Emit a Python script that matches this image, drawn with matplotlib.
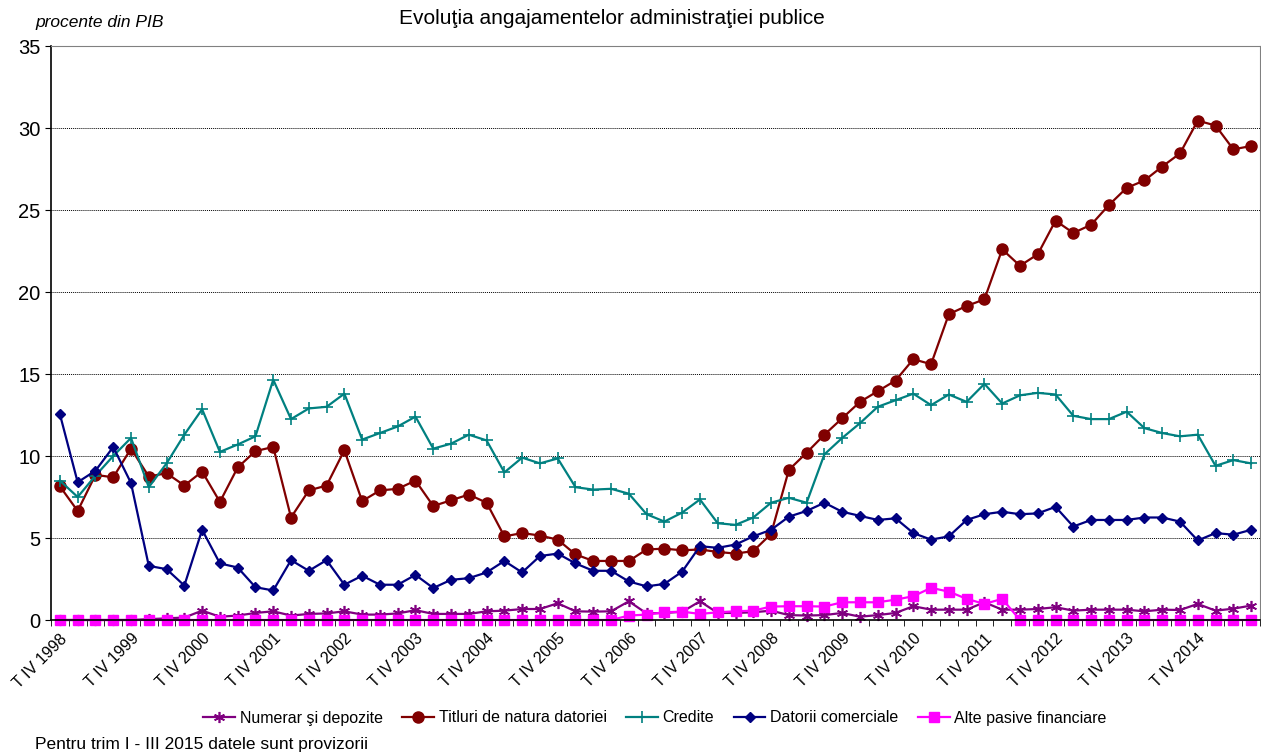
import numpy as np
import matplotlib
matplotlib.use("Agg")
import matplotlib.pyplot as plt

plt.rcParams['font.family'] = ['Liberation Sans', 'DejaVu Sans']

# quarters T IV 1998 ... T III 2015
years = list(range(1998, 2015))
tick_labels = ['T IV %d' % y for y in years]

numerar = [0.0, 0.0, 0.0, 0.0, 0.0, 0.05, 0.1, 0.15, 0.57, 0.2, 0.27, 0.43, 0.53, 0.27, 0.37, 0.4,
           0.53, 0.33, 0.33, 0.4, 0.6, 0.37, 0.37, 0.37, 0.53, 0.57, 0.67, 0.67, 1.02, 0.53, 0.51, 0.53,
           1.14, 0.4, 0.43, 0.5, 1.14, 0.43, 0.43, 0.47, 0.57, 0.3, 0.27, 0.3, 0.43, 0.2, 0.3, 0.43,
           0.84, 0.63, 0.63, 0.63, 1.08, 0.63, 0.63, 0.67, 0.78, 0.57, 0.63, 0.63, 0.63, 0.53, 0.63, 0.61,
           0.98, 0.57, 0.69, 0.88]
titluri = [8.15, 6.65, 8.85, 8.7, 10.45, 8.75, 8.95, 8.2, 9.05, 7.2, 9.3, 10.3, 10.55, 6.25, 7.9, 8.2,
           10.35, 7.25, 7.9, 8.0, 8.5, 6.95, 7.3, 7.65, 7.15, 5.1, 5.3, 5.15, 4.9, 4.0, 3.6, 3.6,
           3.6, 4.3, 4.35, 4.25, 4.3, 4.15, 4.05, 4.2, 5.25, 9.15, 10.2, 11.3, 12.3, 13.3, 13.95, 14.6,
           15.9, 15.6, 18.65, 19.15, 19.55, 22.6, 21.6, 22.3, 24.35, 23.6, 24.1, 25.3, 26.35, 26.8, 27.65, 28.45,
           30.45, 30.15, 28.7, 28.9]
credite = [8.5, 7.5, 8.8, 10.0, 11.1, 8.1, 9.55, 11.3, 12.85, 10.25, 10.7, 11.2, 14.65, 12.25, 12.9, 13.0,
           13.8, 11.0, 11.4, 11.8, 12.4, 10.45, 10.75, 11.3, 10.95, 9.0, 9.9, 9.55, 9.85, 8.1, 7.95, 8.0,
           7.7, 6.45, 6.0, 6.55, 7.35, 5.9, 5.8, 6.25, 7.15, 7.45, 7.15, 10.1, 11.1, 12.0, 13.0, 13.4,
           13.8, 13.1, 13.75, 13.3, 14.4, 13.2, 13.7, 13.85, 13.75, 12.45, 12.25, 12.25, 12.7, 11.7, 11.4, 11.2,
           11.3, 9.4, 9.75, 9.55]
datorii = [12.55, 8.4, 9.1, 10.55, 8.35, 3.3, 3.1, 2.1, 5.5, 3.45, 3.2, 2.0, 1.8, 3.65, 3.0, 3.65,
           2.15, 2.7, 2.15, 2.15, 2.75, 1.95, 2.45, 2.55, 2.9, 3.6, 2.9, 3.9, 4.05, 3.45, 3.0, 3.0,
           2.35, 2.05, 2.2, 2.95, 4.5, 4.4, 4.6, 5.1, 5.5, 6.3, 6.65, 7.15, 6.6, 6.35, 6.1, 6.2,
           5.3, 4.9, 5.1, 6.1, 6.45, 6.6, 6.45, 6.5, 6.9, 5.7, 6.1, 6.1, 6.1, 6.25, 6.25, 6.0,
           4.85, 5.3, 5.2, 5.5]
alte = [0.0] * 32 + [0.27, 0.33, 0.47, 0.51, 0.37, 0.47, 0.53, 0.57, 0.82, 0.84, 0.84, 0.82, 1.08, 1.08, 1.08, 1.24,
                     1.45, 1.96, 1.73, 1.29, 0.98, 1.29] + [0.0] * 14

x = np.arange(len(titluri))

fig = plt.figure(figsize=(12.61, 7.52), dpi=100)
ax = fig.add_axes([51 / 1261, 132 / 752, 1209 / 1261, 574 / 752])

ax.plot(x, numerar, color='#800080', marker=(6, 2, 0), markersize=8, markeredgewidth=1.2, lw=1.6,
        label='Numerar şi depozite', clip_on=False)
ax.plot(x, titluri, color='#800000', marker='o', markersize=8, lw=1.6, label='Titluri de natura datoriei',
        clip_on=False)
ax.plot(x, credite, color='#008080', marker='+', markersize=8, markeredgewidth=1.2, lw=1.6, label='Credite',
        clip_on=False)
ax.plot(x, datorii, color='#000080', marker='D', markersize=5.5, lw=1.6, label='Datorii comerciale',
        clip_on=False)
ax.plot(x, alte, color='#FF00FF', marker='s', markersize=7, lw=1.6, label='Alte pasive financiare',
        clip_on=False)

ax.set_xlim(-0.5, len(x) - 0.5)
ax.set_ylim(0, 35)
ax.set_yticks(np.arange(0, 36, 5))
ax.yaxis.grid(True, color='black', linestyle=(0, (1, 1)), linewidth=0.7)
ax.set_axisbelow(True)
ax.tick_params(axis='y', labelsize=14.5, length=4, direction='out')

ax.set_xticks(np.arange(0, len(x), 4))
ax.set_xticklabels(tick_labels, rotation=45, ha='right', rotation_mode='anchor', fontsize=11.5)
ax.tick_params(axis='x', length=0, pad=8)
ax.set_xticks(np.arange(-0.5, len(x), 1), minor=True)
ax.tick_params(axis='x', which='minor', length=4, direction='out')

for s in ['top', 'right']:
    ax.spines[s].set_color('#808080')
for s in ['left', 'bottom']:
    ax.spines[s].set_linewidth(1.2)

fig.text(612 / 1261, 1 - 18 / 752, 'Evoluţia angajamentelor administraţiei publice', ha='center', va='center',
         fontsize=15)
fig.text(35 / 1261, 1 - 22 / 752, 'procente din PIB', ha='left', va='center', fontsize=12.5, style='italic')
fig.text(35 / 1261, 1 - 745 / 752, 'Pentru trim I - III 2015 datele sunt provizorii', ha='left', va='center',
         fontsize=12.5)

fig.legend(loc='center', bbox_to_anchor=(655 / 1261, 1 - 718 / 752), ncol=5, frameon=False, fontsize=11.5,
           handlelength=2.0, columnspacing=1.2, handletextpad=0.3)

fig.savefig('out.png', dpi=100)
